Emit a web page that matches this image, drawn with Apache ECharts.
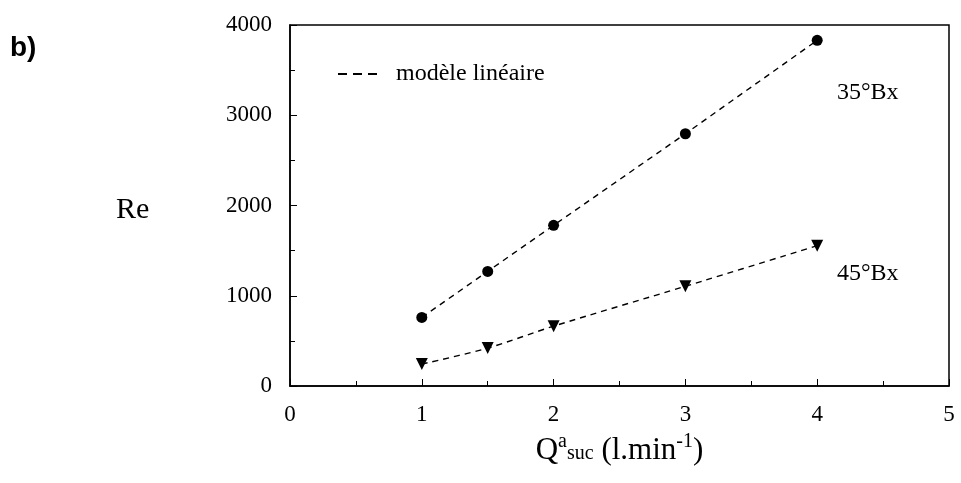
<!DOCTYPE html>
<html>
<head>
<meta charset="utf-8">
<script src="https://cdn.jsdelivr.net/npm/echarts@6/dist/echarts.min.js"></script>
<style>
  html, body { margin: 0; padding: 0; background: #fff; }
  #chart { width: 961px; height: 483px; }
</style>
</head>
<body>
<div id="chart"></div>
<script>
// flow rate Q (l/min)
const flowRates = [1, 1.5, 2, 3, 4];
// Reynolds number per syrup concentration
const re35 = [760, 1270, 1780, 2795, 3830];
const re45 = [243, 420, 663, 1105, 1555];

const serif = "Liberation Serif";
const chart = echarts.init(document.getElementById("chart"));

const pairs = (ys) => flowRates.map((x, i) => [x, ys[i]]);
const dash = [6, 5];

const option = {
    animation: false,
    grid: {
        left: 290,
        right: 12,
        top: 25,
        bottom: 97,
        show: true,
        borderColor: "#000",
        borderWidth: 1.5,
    },
    legend: {
        data: ["modèle linéaire"],
        left: 333,
        top: 57,
        icon: "path://M0,0h9v2h-9z M15,0h9v2h-9z M30,0h9v2h-9z",
        itemWidth: 39,
        itemHeight: 2,
        textStyle: { fontFamily: serif, fontSize: 24, color: "#000", padding: [0, 0, 0, 14] },
    },
    xAxis: {
        type: "value",
        min: 0,
        max: 5,
        interval: 1,
        axisLine: { lineStyle: { color: "#000", width: 1.5 } },
        axisTick: { inside: true, length: 7, lineStyle: { color: "#000" } },
        minorTick: { show: true, splitNumber: 2, length: 5, lineStyle: { color: "#000" } },
        splitLine: { show: false },
        axisLabel: { fontFamily: serif, fontSize: 23, color: "#000", margin: 17 },
        name: "{q|Q}{sup|a}{sub|suc}{q| (l.min}{sup|-1}{q|)}",
        nameLocation: "middle",
        nameGap: 46,
        nameTextStyle: {
            rich: {
                q: { fontFamily: serif, fontSize: 31, color: "#000" },
                sup: { fontFamily: serif, fontSize: 20, color: "#000", verticalAlign: "bottom", padding: [0, 0, 18, 0] },
                sub: { fontFamily: serif, fontSize: 20, color: "#000", verticalAlign: "top", padding: [12, 0, 0, 0] },
            },
        },
    },
    yAxis: {
        type: "value",
        min: 0,
        max: 4000,
        interval: 1000,
        axisLine: { show: true, lineStyle: { color: "#000", width: 1.5 } },
        axisTick: { show: true, inside: true, length: 7, lineStyle: { color: "#000" } },
        minorTick: { show: true, splitNumber: 2, length: 5, lineStyle: { color: "#000" } },
        splitLine: { show: false },
        axisLabel: {
            fontFamily: serif,
            fontSize: 23,
            color: "#000",
            margin: 18,
            formatter: (v) => String(v),
        },
    },
    series: [
        {
            name: "35°Bx",
            type: "line",
            data: pairs(re35),
            symbol: "circle",
            symbolSize: 11,
            itemStyle: { color: "#000" },
            lineStyle: { color: "#000", width: 1.4, type: dash },
        },
        {
            name: "45°Bx",
            type: "line",
            smooth: 0.3,
            data: pairs(re45),
            symbol: "triangle",
            symbolRotate: 180,
            symbolSize: 12,
            itemStyle: { color: "#000" },
            lineStyle: { color: "#000", width: 1.4, type: dash },
        },
        {
            // legend entry only
            name: "modèle linéaire",
            type: "line",
            data: [],
            symbol: "none",
            itemStyle: { color: "#000" },
            lineStyle: { color: "#000", width: 1.4, type: dash },
        },
    ],
    graphic: [
        { type: "text", x: 10, y: 48, style: { text: "b)", font: "bold 28px 'Liberation Sans'", fill: "#000", verticalAlign: "middle" } },
        { type: "text", x: 116, y: 210, style: { text: "Re", font: "30px 'Liberation Serif'", fill: "#000", verticalAlign: "middle" } },
        { type: "text", x: 837, y: 93, style: { text: "35°Bx", font: "24px 'Liberation Serif'", fill: "#000", verticalAlign: "middle" } },
        { type: "text", x: 837, y: 274, style: { text: "45°Bx", font: "24px 'Liberation Serif'", fill: "#000", verticalAlign: "middle" } },
    ],
};

chart.setOption(option);
</script>
</body>
</html>
